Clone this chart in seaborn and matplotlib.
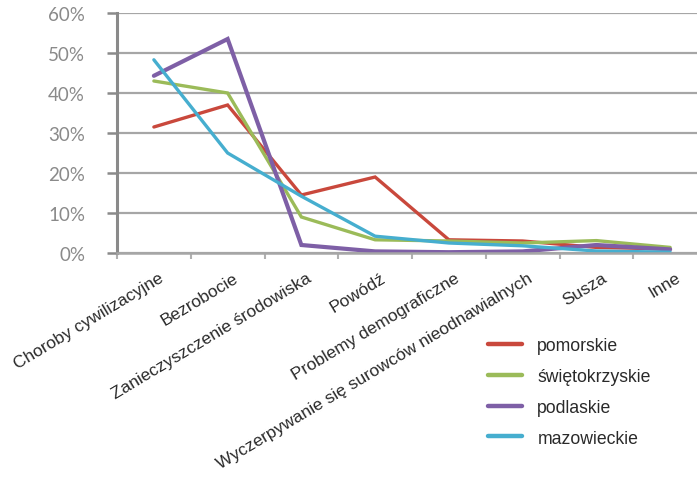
import pandas as pd
import numpy as np
import matplotlib
matplotlib.use('Agg')
import matplotlib.pyplot as plt
import matplotlib.transforms as mtransforms
import seaborn as sns

# Dane (w procentach)
kategorie = ['Choroby cywilizacyjne', 'Bezrobocie', 'Zanieczyszczenie środowiska', 'Powódź',
             'Problemy demograficzne', 'Wyczerpywanie się surowców nieodnawialnych', 'Susza', 'Inne']
pomorskie = [31.5, 37.0, 14.5, 19.0, 3.3, 3.0, 1.4, 1.0]
swietokrzyskie = [43.0, 40.0, 9.0, 3.3, 3.0, 2.5, 3.1, 1.4]
podlaskie = [44.3, 53.5, 2.0, 0.4, 0.2, 0.4, 2.0, 0.9]
mazowieckie = [48.3, 25.0, 14.2, 4.2, 2.5, 1.8, 0.5, 0.2]
wojewodztwa = ['pomorskie', 'świętokrzyskie', 'podlaskie', 'mazowieckie']
kolory = ['#c9483c', '#9bbb59', '#7e5fa6', '#46aecf']
y_ticks = [0, 10, 20, 30, 40, 50, 60]

sns.set_style("white")
plt.rcParams['font.family'] = ['Liberation Sans', 'DejaVu Sans']

rows = []
for woj, wart in zip(wojewodztwa, [pomorskie, swietokrzyskie, podlaskie, mazowieckie]):
    for i, (kat, v) in enumerate(zip(kategorie, wart)):
        rows.append({'kategoria': kat, 'poz': i, 'wartosc': v / 100, 'woj': woj})
df = pd.DataFrame(rows)

fig = plt.figure(figsize=(6.97, 4.85), dpi=100)
ax = fig.add_axes([117 / 697, 1 - 254 / 485, 590 / 697, 240 / 485])

sns.lineplot(data=df, x='poz', y='wartosc', hue='woj', palette=dict(zip(wojewodztwa, kolory)),
             hue_order=wojewodztwa, sort=False, linewidth=2.4, ax=ax, legend=False)
for ln in ax.lines:
    ln.set_solid_joinstyle('miter')
ax.lines[2].set_linewidth(3.0)

ax.set_xlim(-0.5, len(kategorie) - 0.5)
ax.set_ylim(0, 0.6)
ax.set_xlabel('')
ax.set_ylabel('')

# siatka i osie w stylu Excela
ax.set_yticks([t / 100 for t in y_ticks])
ax.set_yticklabels([f'{t}%' for t in y_ticks], family=['Lato', 'DejaVu Sans'], fontsize=13.5, color='#8a8a8a')
ax.tick_params(axis='y', length=7, width=1.8, color='#8a8a8a', pad=16, left=True)
ax.yaxis.grid(True, color='#a6a6a6', linewidth=1.6)
ax.set_axisbelow(True)

ax.set_xticks(np.arange(len(kategorie)))
ax.set_xticklabels(kategorie, rotation=31, ha='right', va='top', rotation_mode='anchor',
                   fontsize=12.5, color='#2a2a2a')
ax.tick_params(axis='x', length=0, pad=12)
ax.set_xticks(np.arange(len(kategorie) + 1) - 0.5, minor=True)
ax.tick_params(axis='x', which='minor', length=4, width=1.5, color='#b0b0b0', bottom=True)
off = mtransforms.ScaledTranslation(5 / 100, 0, fig.dpi_scale_trans)
for lab in ax.get_xticklabels():
    lab.set_transform(lab.get_transform() + off)

for s in ['top', 'right']:
    ax.spines[s].set_visible(False)
ax.spines['left'].set_color('#8a8a8a')
ax.spines['left'].set_linewidth(2.2)
ax.spines['bottom'].set_color('#a6a6a6')
ax.spines['bottom'].set_linewidth(1.8)

uchwyty = [plt.Line2D([], [], color=k, linewidth=3.2) for k in kolory]
fig.legend(uchwyty, wojewodztwa, loc='center left', bbox_to_anchor=(488 / 697, 1 - 393 / 485),
           frameon=False, fontsize=12.7, borderpad=0, borderaxespad=0, handlelength=1.95,
           handletextpad=0.85, labelspacing=0.78, labelcolor='#2a2a2a')

fig.savefig('out.png', dpi=100)
